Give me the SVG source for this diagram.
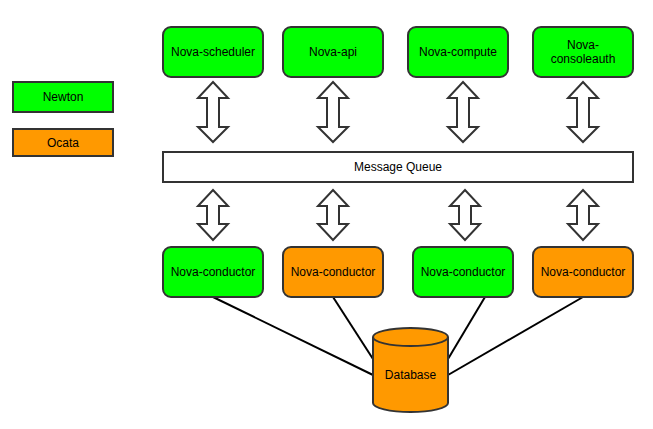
<svg xmlns="http://www.w3.org/2000/svg" width="653" height="429" viewBox="0 0 653 429">
<style>
.n{stroke:#333;stroke-width:2}
.g{fill:#00ff00}
.o{fill:#ff9900}
.t{font-family:"Liberation Sans",Arial,sans-serif;font-size:12px;fill:#000;text-anchor:middle;dominant-baseline:central}
.a{fill:#fff;stroke:#333;stroke-width:2;stroke-linejoin:miter}
.l{stroke:#000;stroke-width:2;fill:none}
</style>
<defs>
<path id="dbl" class="a" d="M0,0 L15,16 L6,16 L6,45 L15,45 L0,60 L-15,45 L-6,45 L-6,16 L-15,16 Z"/>
<path id="dbl2" class="a" d="M0,0 L15,16 L6,16 L6,34 L15,34 L0,50 L-15,34 L-6,34 L-6,16 L-15,16 Z"/>
</defs>
<rect width="653" height="429" fill="#fff"/>
<g id="legend-newton"><rect class="n g" x="13" y="82" width="100" height="30"/><text class="t" x="63" y="97">Newton</text></g>
<g id="legend-ocata"><rect class="n o" x="13" y="129" width="100" height="27"/><text class="t" x="63" y="142.5">Ocata</text></g>
<g id="connectors">
<use href="#dbl" x="213" y="82"/>
<use href="#dbl" x="333" y="82"/>
<use href="#dbl" x="463" y="82"/>
<use href="#dbl" x="583" y="82"/>
<use href="#dbl2" x="213" y="190"/>
<use href="#dbl2" x="333" y="190"/>
<use href="#dbl2" x="465" y="190"/>
<use href="#dbl2" x="583" y="190"/>
<line class="l" x1="213" y1="297" x2="373" y2="375"/>
<line class="l" x1="333" y1="297" x2="373" y2="359"/>
<line class="l" x1="485" y1="297" x2="448" y2="359"/>
<line class="l" x1="583" y1="297" x2="448" y2="375"/>
</g>
<g id="scheduler"><rect class="n g" x="163" y="27" width="100" height="50" rx="8"/><text class="t" x="213" y="52">Nova-scheduler</text></g>
<g id="api"><rect class="n g" x="283" y="27" width="100" height="50" rx="8"/><text class="t" x="333" y="52">Nova-api</text></g>
<g id="compute"><rect class="n g" x="408" y="27" width="100" height="50" rx="8"/><text class="t" x="458" y="52">Nova-compute</text></g>
<g id="consoleauth"><rect class="n g" x="533" y="27" width="100" height="50" rx="8"/><text class="t" x="583" y="45">Nova-</text><text class="t" x="583" y="59">consoleauth</text></g>
<g id="mq"><rect class="n" fill="#fff" x="163" y="152" width="470" height="30"/><text class="t" x="398" y="167">Message Queue</text></g>
<g id="cond1"><rect class="n g" x="163" y="247" width="100" height="50" rx="8"/><text class="t" x="213" y="272">Nova-conductor</text></g>
<g id="cond2"><rect class="n o" x="283" y="247" width="100" height="50" rx="8"/><text class="t" x="333" y="272">Nova-conductor</text></g>
<g id="cond3"><rect class="n g" x="413" y="247" width="100" height="50" rx="8"/><text class="t" x="463" y="272">Nova-conductor</text></g>
<g id="cond4"><rect class="n o" x="533" y="247" width="100" height="50" rx="8"/><text class="t" x="583" y="272">Nova-conductor</text></g>
<g id="database">
<path class="n o" d="M373,337 A37.5,9 0 0 1 448,337 L448,403 A37.5,9 0 0 1 373,403 Z"/>
<path class="n" fill="none" d="M373,337 A37.5,9 0 0 0 448,337"/>
<text class="t" x="410.5" y="375">Database</text>
</g>
</svg>
